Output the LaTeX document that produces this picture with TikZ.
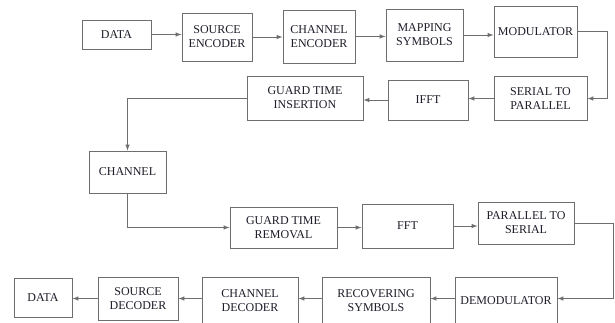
\documentclass[tikz,border=0pt]{standalone}
\usepackage{fontspec}
\setmainfont{Liberation Serif}
\usepackage{xcolor}
\definecolor{g1}{HTML}{6E6E6E}
\definecolor{t1}{HTML}{1C1C28}

\begin{document}
\begin{tikzpicture} [x=1pt, y=-1pt,
	font = \fontsize{12}{14}\selectfont,
	blk/.style = {draw = g1, line width = 1pt, text = t1, align = center,
		inner sep = 0pt, minimum width = #1},
	link/.style = {draw = g1, line width = 1pt, -latex}]
\useasboundingbox (0,0) rectangle (615,322);
\clip (0,0) rectangle (615,322);

% top row:
\node [blk = 69, minimum height = 29] (data1) at (116.5,34.5) {DATA};
\node [blk = 70, minimum height = 48] (srcenc) at (217,37) {SOURCE\\ENCODER};
\node [blk = 72, minimum height = 53] (chenc) at (319,36.5) {CHANNEL\\ENCODER};
\node [blk = 77, minimum height = 52] (mapsym) at (424.5,35) {MAPPING\\SYMBOLS};
\node [blk = 83, minimum height = 51] (modul) at (535.5,31.5) {MODULATOR};

% second row:
\node [blk = 93, minimum height = 44] (s2p) at (540.5,98.5) {SERIAL TO\\PARALLEL};
\node [blk = 80, minimum height = 40] (ifft) at (428,100) {IFFT};
\node [blk = 116, minimum height = 44] (gti) at (305,98) {GUARD TIME\\INSERTION};

% channel:
\node [blk = 77, minimum height = 42] (chan) at (127.5,172) {CHANNEL};

% receiver:
\node [blk = 107, minimum height = 41] (gtr) at (283.5,227.5) {GUARD TIME\\REMOVAL};
\node [blk = 91, minimum height = 44] (fft) at (407.5,226) {FFT};
\node [blk = 96, minimum height = 42] (p2s) at (526,223) {PARALLEL TO\\SERIAL};

% bottom row (cut by the page edge):
\node [blk = 102, minimum height = 47] (demod) at (506,300.5) {DEMODULATOR};
\node [blk = 108, minimum height = 47] (recsym) at (376,300.5) {RECOVERING\\SYMBOLS};
\node [blk = 96, minimum height = 47] (chdec) at (250,300.5) {CHANNEL\\DECODER};
\node [blk = 80, minimum height = 43] (srcdec) at (138,298.5) {SOURCE\\DECODER};
\node [blk = 58, minimum height = 39] (data2) at (43,297.5) {DATA};

% arrows:
\draw [link] (data1.east) -- (data1.east -| srcenc.west);
\draw [link] (srcenc.east) -- (srcenc.east -| chenc.west);
\draw [link] (chenc.east) -- (chenc.east -| mapsym.west);
\draw [link] (mapsym.east) -- (mapsym.east -| modul.west);
\draw [link] (modul.east) -- ++(30,0) |- (s2p.east);
\draw [link] (s2p.west) -- (s2p.west -| ifft.east);
\draw [link] (ifft.west) -- (ifft.west -| gti.east);
\draw [link] (gti.west) -| (chan.north);
\draw [link] (chan.south) |- (gtr.west);
\draw [link] (gtr.east) -- (gtr.east -| fft.west);
\draw [link] (fft.east) -- (fft.east -| p2s.west);
\draw [link] (p2s.east) -- ++(39,0) |- ([yshift=2pt]demod.east);
\draw [link] ([yshift=2pt]demod.west) -- ([yshift=2pt]demod.west -| recsym.east);
\draw [link] ([yshift=2pt]recsym.west) -- ([yshift=2pt]recsym.west -| chdec.east);
\draw [link] ([yshift=2pt]chdec.west) -- ([yshift=2pt]chdec.west -| srcdec.east);
\draw [link] (srcdec.west) -- (srcdec.west -| data2.east);
\end{tikzpicture}
\end{document}
